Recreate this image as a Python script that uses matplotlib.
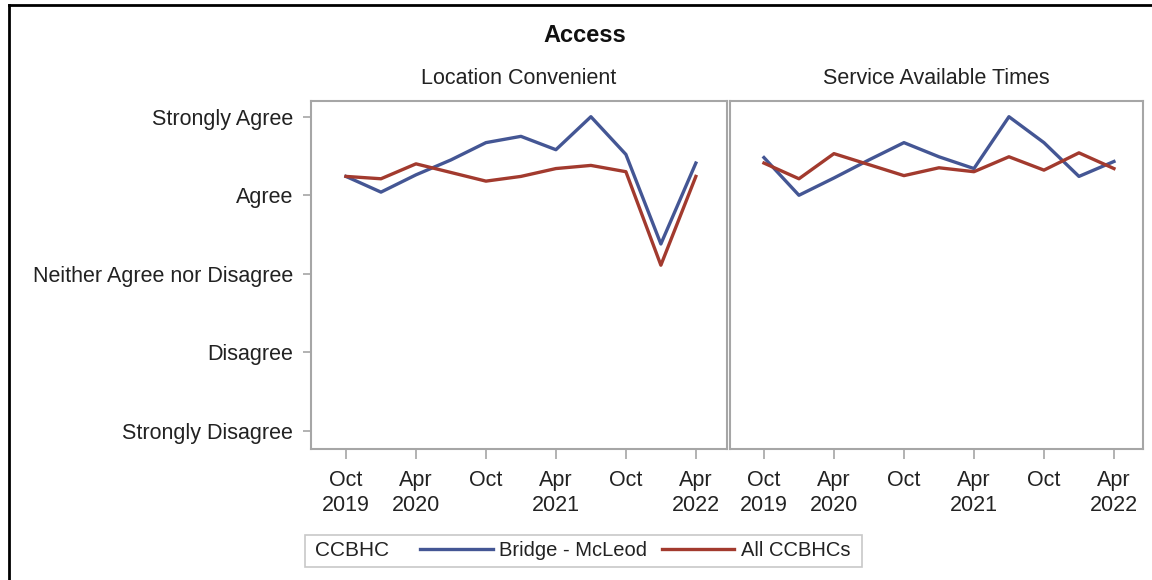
import matplotlib
matplotlib.use("Agg")
import matplotlib.pyplot as plt
from matplotlib.lines import Line2D
from matplotlib.patches import Rectangle

plt.rcParams['font.family'] = ['Liberation Sans', 'DejaVu Sans']

# quarterly survey waves, Oct 2019 .. Apr 2022
periods = ["Oct 2019", "Jan 2020", "Apr 2020", "Jul 2020", "Oct 2020", "Jan 2021",
           "Apr 2021", "Jul 2021", "Oct 2021", "Jan 2022", "Apr 2022"]
tick_idx = [0, 2, 4, 6, 8, 10]
tick_labels = ["Oct\n2019", "Apr\n2020", "Oct", "Apr\n2021", "Oct", "Apr\n2022"]

y_levels = [1, 2, 3, 4, 5]
y_labels = ["Strongly Disagree", "Disagree", "Neither Agree nor Disagree",
            "Agree", "Strongly Agree"]

panels = ["Location Convenient", "Service Available Times"]
series = ["Bridge - McLeod", "All CCBHCs"]

bridge_location = [4.24, 4.04, 4.26, 4.45, 4.67, 4.75, 4.58, 5.00, 4.52, 3.38, 4.41]
all_location = [4.24, 4.21, 4.40, 4.29, 4.18, 4.24, 4.34, 4.38, 4.30, 3.11, 4.24]
bridge_times = [4.48, 4.00, 4.22, 4.45, 4.67, 4.49, 4.34, 5.00, 4.67, 4.24, 4.43]
all_times = [4.41, 4.21, 4.53, 4.39, 4.25, 4.35, 4.30, 4.49, 4.32, 4.54, 4.34]

colors = ["#445694", "#A23A2E"]
W, H = 1152, 580

fig = plt.figure(figsize=(W / 100, H / 100), dpi=100)


def px(x0, y0, x1, y1):
    return [x0 / W, 1 - y1 / H, (x1 - x0) / W, (y1 - y0) / H]


ax1 = fig.add_axes(px(311, 101, 727, 449))
ax2 = fig.add_axes(px(730, 101, 1143, 449))
data = [(bridge_location, all_location), (bridge_times, all_times)]
xlims = [(-1.0, 10.89), (-0.97, 10.83)]

x = list(range(len(periods)))
for ax, title, (b, a), xl in zip([ax1, ax2], panels, data, xlims):
    ax.plot(x, b, color=colors[0], lw=2.4, label=series[0])
    ax.plot(x, a, color=colors[1], lw=2.4, label=series[1])
    ax.set_xlim(*xl)
    ax.set_ylim(0.77, 5.2)
    ax.set_xticks(tick_idx)
    ax.set_xticklabels(tick_labels, fontsize=15.5, color="#222222", linespacing=1.25)
    for s in ax.spines.values():
        s.set_color("#a6a6a6")
        s.set_linewidth(1.5)
    ax.tick_params(axis="x", length=7, width=1.2, color="#a6a6a6", pad=8)
    ax.text(0.5, 1.065, title, transform=ax.transAxes, ha="center", va="center",
            fontsize=15.5, color="#222222")

ax1.set_yticks(y_levels)
ax1.set_yticklabels(y_labels, fontsize=15.5, color="#222222")
ax1.tick_params(axis="y", length=6, width=1.2, color="#a6a6a6", pad=7)
ax2.set_yticks([])

fig.text(585 / W, 1 - 35 / H, "Access", ha="center", va="center",
         fontsize=17, fontweight="bold", color="#111111")

# legend box with inline title
fig.patches.append(Rectangle((305 / W, 1 - 567 / H), 557 / W, 32 / H,
                             transform=fig.transFigure, fill=False,
                             edgecolor="#c8c8c8", lw=1.2))
fig.text(315 / W, 1 - 551 / H, "CCBHC", ha="left", va="center",
         fontsize=15, color="#222222")
handles = [Line2D([], [], color=c, lw=2.4) for c in colors]
fig.legend(handles, series, loc="center left", bbox_to_anchor=(420 / W, 1 - 551 / H),
           ncol=2, frameon=False, fontsize=14.5, handlelength=3.6,
           handletextpad=0.34, columnspacing=0.72, borderpad=0, borderaxespad=0,
           labelcolor="#222222")

# screenshot frame
fig.add_artist(Line2D([9 / W, 9 / W], [0, 1 - 5 / H], transform=fig.transFigure,
                      color="black", lw=2))
fig.add_artist(Line2D([9 / W, 1], [1 - 5 / H, 1 - 5 / H], transform=fig.transFigure,
                      color="black", lw=2))

fig.savefig("out.png", dpi=100)
